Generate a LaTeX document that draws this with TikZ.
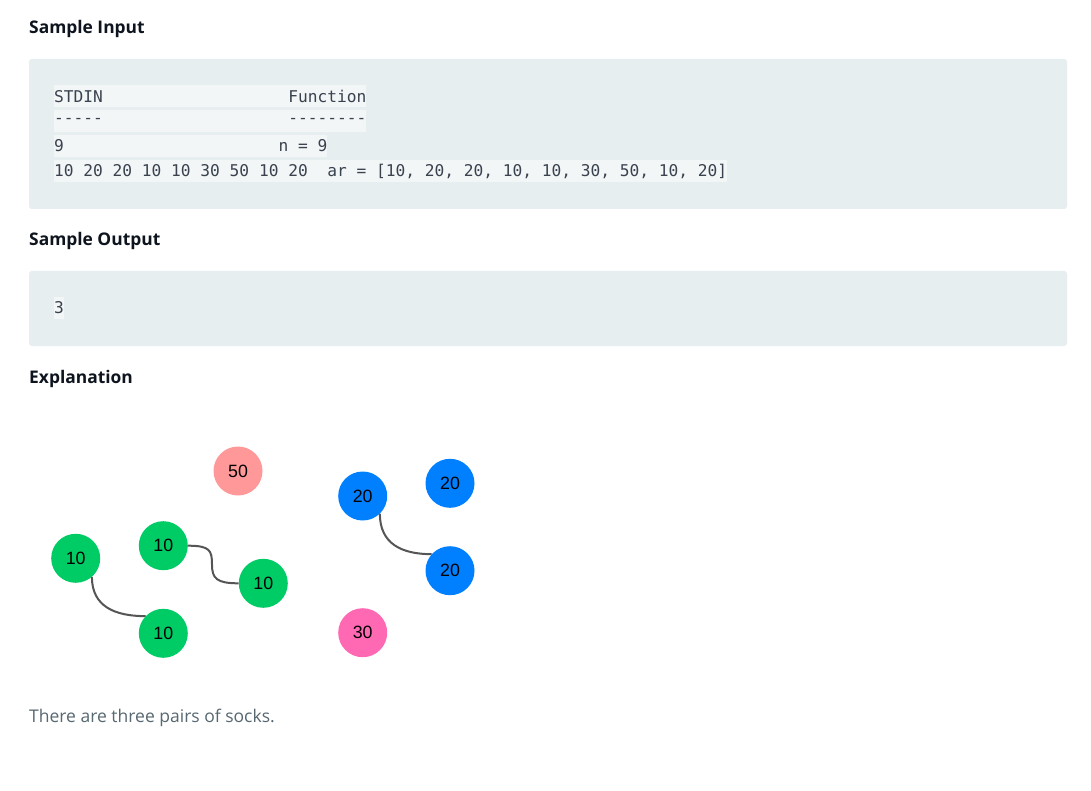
\documentclass[tikz,border=0pt]{standalone}
\usepackage{fontspec}
\setmainfont{Open Sans}
\newfontfamily\codefont{DejaVu Sans Mono}
\newfontfamily\ballfont{Liberation Sans}
\definecolor{boxbg}{HTML}{E7EEF0}
\definecolor{hlbg}{HTML}{F3F6F7}
\definecolor{codetxt}{HTML}{39424E}
\definecolor{headtxt}{HTML}{0E141E}
\definecolor{bodytxt}{HTML}{576871}
\definecolor{sockgreen}{HTML}{00CC66}
\definecolor{sockblue}{HTML}{0080FF}
\definecolor{sockpink}{HTML}{FF69B4}
\definecolor{socksalmon}{HTML}{FF9999}
\definecolor{linkgray}{HTML}{555555}
\begin{document}
\begin{tikzpicture}[x=1pt,y=-1pt,
  heading/.style={anchor=west,inner sep=0pt,font=\fontsize{17.4}{20}\selectfont\bfseries,text=headtxt},
  codebox/.style={fill=boxbg,draw=none,rounded corners=3pt},
  codeline/.style={anchor=west,inner sep=0pt,minimum height=22pt,fill=hlbg,text=codetxt,font=\codefont\fontsize{16.2}{20}\selectfont},
  sock/.style={circle,minimum size=49pt,inner sep=0pt,text=black,font=\ballfont\fontsize{17.8}{20}\selectfont},
  link/.style={draw=linkgray,line width=2pt}]
\useasboundingbox[fill=white] (0,0) rectangle (1091,791);

% Sample Input
\node[heading] (hin) at (29,28.5) {Sample Input};
\path[codebox] (29,59) rectangle (1067,209);
\node[codeline] (l1) at (54,96) {STDIN~~~~~~~~~~~~~~~~~~~Function~};
\node[codeline] (l2) at (54,121) {-{}-{}-{}-{}-~~~~~~~~~~~~~~~~~~~-{}-{}-{}-{}-{}-{}-{}-~};
\node[codeline] (l3) at (54,146) {9~~~~~~~~~~~~~~~~~~~~~~n~=~9};
\node[codeline] (l4) at (54,171) {10~20~20~10~10~30~50~10~20~~ar~=~[10,~20,~20,~10,~10,~30,~50,~10,~20]};

% Sample Output
\node[heading] (hout) at (29,240.5) {Sample Output};
\path[codebox] (29,271) rectangle (1067,346);
\node[codeline] (o1) at (54,308) {3};

% Explanation
\node[heading] (hexp) at (29,378.5) {Explanation};

\node[sock,fill=socksalmon] (s50) at (238,471) {50};
\node[sock,fill=sockgreen] (g1) at (75.7,558.3) {10};
\node[sock,fill=sockgreen] (g2) at (163.3,545.7) {10};
\node[sock,fill=sockgreen] (g3) at (263.3,583.3) {10};
\node[sock,fill=sockgreen] (g4) at (163.3,633.3) {10};
\node[sock,fill=sockblue] (b1) at (362.7,496) {20};
\node[sock,fill=sockblue] (b2) at (450,483.3) {20};
\node[sock,fill=sockblue] (b3) at (450,570.7) {20};
\node[sock,fill=sockpink] (p30) at (362.7,632.7) {30};

\coordinate (gmid) at (212,564.5);
\draw[link] (g1.-49) .. controls +(0,30) and +(-30,0) .. (g4.136);
\draw[link] (g2.0) .. controls +(22,0) and +(0,-14) .. (gmid) .. controls +(0,14) and +(-22,0) .. (g3.180);
\draw[link] (b1.-46) .. controls +(0,30) and +(-30,0) .. (b3.138);

\node[anchor=west,inner sep=0pt,text=bodytxt,font=\fontsize{17.5}{20}\selectfont] (note) at (29,717.5) {There are three pairs of socks.};
\end{tikzpicture}
\end{document}
